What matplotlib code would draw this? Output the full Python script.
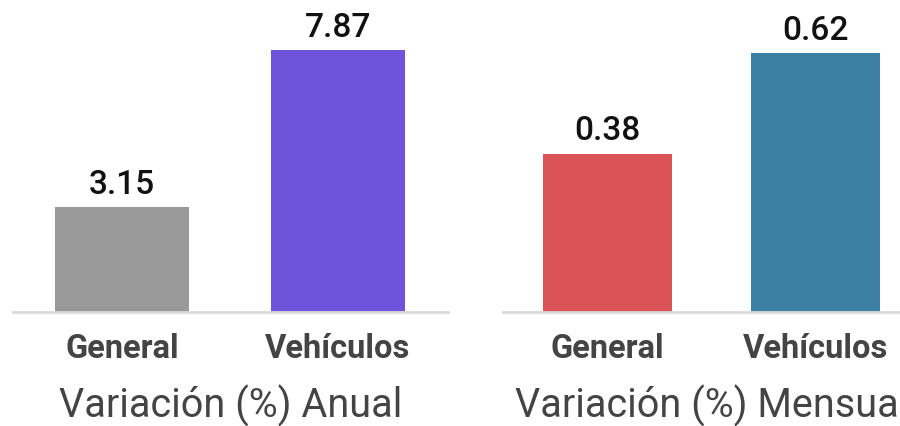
import matplotlib
matplotlib.use("Agg")
import matplotlib.pyplot as plt

plt.rcParams['font.family'] = ['Roboto', 'DejaVu Sans']

categories = ["General", "Vehículos"]
annual_values = [3.15, 7.87]
monthly_values = [0.38, 0.62]
annual_colors = ["#999999", "#6E54DA"]
monthly_colors = ["#DB5356", "#3B7FA2"]
annual_title = "Variación (%) Anual"
monthly_title = "Variación (%) Mensual"

W, H = 900, 426
fig = plt.figure(figsize=(W / 100, H / 100), dpi=100)

def px_axes(x0, x1, y_top, y_base):
    return fig.add_axes([x0 / W, (H - y_base) / H, (x1 - x0) / W, (y_base - y_top) / H])

def draw_panel(ax, values, colors, label, ymax):
    x = list(range(len(categories)))
    ax.bar(x, values, width=0.62, color=colors)
    for xi, v in zip(x, values):
        ax.annotate(f"{v:.2f}", (xi, v), xytext=(0, 4.5), textcoords="offset points",
                    ha="center", va="bottom", fontsize=24, fontweight="medium", color="#111111")
    ax.set_xlim(-0.505, 1.51)
    ax.set_ylim(0, ymax)
    ax.set_xticks(x)
    ax.set_xticklabels(categories, fontsize=23.5, fontweight="bold", color="#444444")
    ax.tick_params(axis="x", length=0, pad=15)
    ax.set_yticks([])
    for s in ["top", "left", "right"]:
        ax.spines[s].set_visible(False)
    ax.spines["bottom"].set_color("#d9d9d9")
    ax.spines["bottom"].set_linewidth(2)
    ax.set_xlabel(label, fontsize=28.5, color="#444444", labelpad=14.5)
    ax.patch.set_alpha(0)

ax1 = px_axes(13, 448, 0, 312)
draw_panel(ax1, annual_values, annual_colors, annual_title, 312 / 33.3)

ax2 = px_axes(503, 920, 0, 312)
draw_panel(ax2, monthly_values, monthly_colors, monthly_title, 312 / 417.0)
ax2.set_xlim(-0.502, 1.503)

fig.savefig("out.png", dpi=100)
